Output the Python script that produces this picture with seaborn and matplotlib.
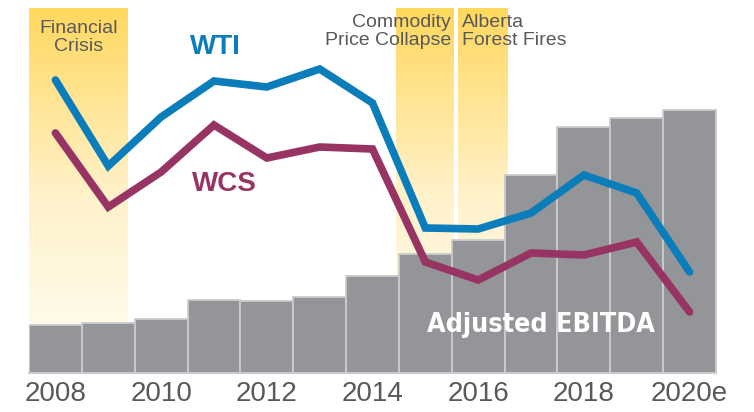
import numpy as np
import pandas as pd
import matplotlib.pyplot as plt
from matplotlib import font_manager as fm
from matplotlib.colors import LinearSegmentedColormap
import seaborn as sns

# 数据 (index units)
years = ['2008', '2009', '2010', '2011', '2012', '2013', '2014',
         '2015', '2016', '2017', '2018', '2019', '2020e']
ebitda = [48, 50, 54, 73, 72, 76, 97, 119, 133, 198, 246, 255, 263]
wti = [293, 207, 256, 292, 286, 304, 270, 145, 144, 160, 198, 180, 101]
wcs = [240, 166, 201, 248, 215, 226, 224, 111, 93, 120, 118, 131, 61]

# event bands (in bar index units)
band_starts = [-0.5, 6.45, 7.61]
band_ends = [1.36, 7.53, 8.55]

tick_years = ['2008', '2010', '2012', '2014', '2016', '2018', '2020e']

sns.set_style('white')
plt.rcParams['font.family'] = ['Liberation Sans', 'DejaVu Sans']

BLUE = '#0a7dba'
PURPLE = '#973463'
GREY = '#939598'
EDGE = '#c9cbcd'
TXT = '#595959'


def condensed_bold():
    # 找一个窄体粗体字, 找不到就用普通粗体
    def is_bold(f):
        w = f.weight
        return w in ('bold', 'semibold', 'demibold') or (isinstance(w, int) and w >= 600)

    def is_narrow(f):
        s = f.stretch
        named = 'Narrow' in f.name or 'Condensed' in f.name
        return named or s in ('condensed', 'semi-condensed', 'extra-condensed') or \
            (isinstance(s, int) and s < 500)

    found = [f for f in fm.fontManager.ttflist if is_bold(f) and is_narrow(f)]
    order = ['Liberation Sans Narrow', 'DejaVu Sans', 'Roboto', 'Noto Sans', 'Open Sans']
    found.sort(key=lambda f: order.index(f.name) if f.name in order else 99)
    if found:
        return fm.FontProperties(fname=found[0].fname, size=19.3)
    return fm.FontProperties(family='DejaVu Sans', weight='bold', size=17.5)


def main():
    fig = plt.figure(figsize=(7.54, 4.12), dpi=100)
    ax = fig.add_axes([29 / 754, 1 - 373 / 412, 687 / 754, 365 / 412])
    top = 365

    # yellow gradient bands
    cmap = LinearSegmentedColormap.from_list('band', ['#fffdf7', '#fff1c8', '#ffd85e'])
    grad = np.linspace(0, 1, 256).reshape(-1, 1)
    for x0, x1 in zip(band_starts, band_ends):
        ax.imshow(grad, extent=(x0, x1, 0, top), origin='lower', cmap=cmap,
                  aspect='auto', zorder=0)

    df = pd.DataFrame({'year': years, 'ebitda': ebitda, 'wti': wti, 'wcs': wcs})
    df['pos'] = np.arange(len(df))

    sns.barplot(data=df, x='year', y='ebitda', color=GREY, saturation=1,
                width=1, edgecolor=EDGE, linewidth=1.3, ax=ax, zorder=1)
    sns.lineplot(data=df, x='pos', y='wti', color=BLUE, lw=5.5, ax=ax,
                 solid_capstyle='round', solid_joinstyle='miter', zorder=3)
    sns.lineplot(data=df, x='pos', y='wcs', color=PURPLE, lw=5.5, ax=ax,
                 solid_capstyle='round', solid_joinstyle='miter', zorder=3)

    ax.set_xlim(-0.5, 12.5)
    ax.set_ylim(0, top)
    ax.set_xticks([years.index(t) for t in tick_years])
    ax.set_xticklabels(tick_years, fontsize=20, color=TXT)
    ax.tick_params(axis='x', length=0, pad=6)
    ax.set_yticks([76, 153, 230])
    ax.yaxis.tick_right()
    ax.tick_params(axis='y', direction='in', length=4, width=1, color=EDGE,
                   labelright=False)
    ax.set_xlabel('')
    ax.set_ylabel('')
    for s in ['left', 'top']:
        ax.spines[s].set_visible(False)
    for s in ['bottom', 'right']:
        ax.spines[s].set_color(EDGE)
        ax.spines[s].set_linewidth(1.5)
    ax.spines['right'].set_bounds(0, 263)

    # 注释文字
    ax.text(0.43, 353, 'Financial\nCrisis', ha='center', va='top', fontsize=14,
            color=TXT, linespacing=1.05)
    ax.text(7.49, 359, 'Commodity\nPrice Collapse', ha='right', va='top',
            fontsize=14, color=TXT, linespacing=1.05, multialignment='right')
    ax.text(7.70, 359, 'Alberta\nForest Fires', ha='left', va='top',
            fontsize=14, color=TXT, linespacing=1.05)
    ax.text(3.03, 326, 'WTI', ha='center', va='center', fontsize=20,
            fontweight='bold', color=BLUE)
    ax.text(3.20, 189, 'WCS', ha='center', va='center', fontsize=20,
            fontweight='bold', color=PURPLE)
    ax.text(9.19, 48, 'Adjusted EBITDA', ha='center', va='center',
            fontproperties=condensed_bold(), color='white', zorder=4)

    plt.savefig('out.png', dpi=100)


if __name__ == '__main__':
    main()
